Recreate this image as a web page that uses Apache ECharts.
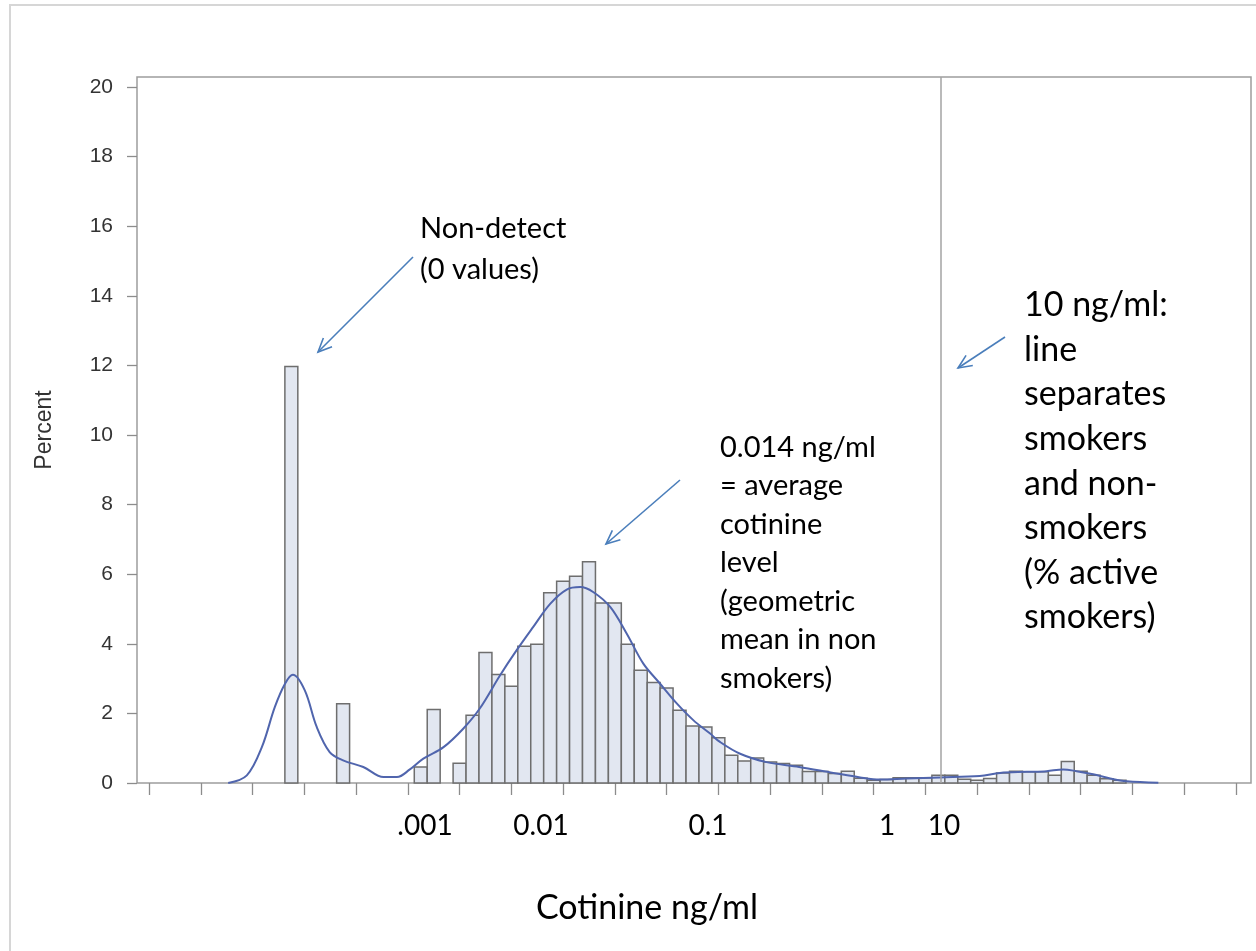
<!DOCTYPE html>
<html>
<head>
<meta charset="utf-8">
<script src="https://cdn.jsdelivr.net/npm/echarts@6/dist/echarts.min.js"></script>
<style>
  html, body { margin: 0; padding: 0; background: #ffffff; }
  #chart { width: 1256px; height: 951px; }
</style>
</head>
<body>
<div id="chart"></div>
<script>
// Histogram of ln(cotinine) in 0.25-wide bins, with a kernel density overlay.
const BIN_WIDTH = 0.25;

// Bin centres on the natural-log scale
const binCenters = [
  -10.25, -9.25, -7.75, -7.5, -7.0, -6.75, -6.5, -6.25, -6.0, -5.75,
  -5.5, -5.25, -5.0, -4.75, -4.5, -4.25, -4.0, -3.75, -3.5, -3.25,
  -3.0, -2.75, -2.5, -2.25, -2.0, -1.75, -1.5, -1.25, -1.0, -0.75,
  -0.5, -0.25, 0.0, 0.25, 0.5, 0.75, 1.0, 1.25, 1.5, 1.75,
  2.0, 2.25, 2.5, 2.75, 3.0, 3.25, 3.5, 3.75, 4.0, 4.25,
  4.5, 4.75, 5.0, 5.25, 5.5, 5.75
];
// Percent of subjects in each bin
const binPercent = [
  11.97, 2.28, 0.46, 2.11, 0.57, 1.95, 3.75, 3.12, 2.78, 3.93,
  3.99, 5.47, 5.80, 5.94, 6.36, 5.17, 5.17, 3.99, 3.24, 2.89,
  2.73, 2.09, 1.64, 1.61, 1.30, 0.80, 0.63, 0.72, 0.60, 0.56,
  0.51, 0.33, 0.33, 0.27, 0.34, 0.14, 0.08, 0.10, 0.15, 0.15,
  0.15, 0.22, 0.22, 0.11, 0.08, 0.13, 0.29, 0.34, 0.32, 0.32,
  0.22, 0.62, 0.34, 0.22, 0.12, 0.08
];

// Kernel density estimate
const densityX = [
  -11.47, -11.11, -10.82, -10.57, -10.37, -10.22, -9.99, -9.76, -9.51, -9.25,
  -8.86, -8.47, -8.21, -7.96, -7.70, -7.31, -6.93, -6.61, -6.22, -5.90,
  -5.58, -5.25, -4.93, -4.67, -4.42, -4.09, -3.77, -3.45, -3.13, -2.80,
  -2.48, -2.16, -1.97, -1.58, -1.07, -0.44, 0.22, 0.74, 1.12, 1.64,
  2.28, 3.05, 3.44, 3.96, 4.34, 4.66, 4.92, 5.24, 5.57, 5.89, 6.50
];
const densityY = [
  0.00, 0.22, 1.03, 2.18, 2.86, 3.11, 2.66, 1.61, 0.89, 0.65,
  0.46, 0.17, 0.17, 0.39, 0.70, 1.03, 1.56, 2.14, 3.09, 3.81,
  4.48, 5.15, 5.56, 5.63, 5.49, 5.06, 4.29, 3.43, 2.86, 2.28,
  1.80, 1.42, 1.18, 0.84, 0.60, 0.46, 0.29, 0.16, 0.10, 0.13,
  0.16, 0.20, 0.29, 0.32, 0.34, 0.39, 0.34, 0.25, 0.13, 0.05, 0.01
];

// Axis ticks
const xTicks = [-13, -12, -11, -10, -9, -8, -7, -6, -5, -4, -3, -2, -1, 0, 1, 2, 3, 4, 5, 6, 7, 8];
const yTicks = [0, 2, 4, 6, 8, 10, 12, 14, 16, 18, 20];

// Smoker / non-smoker cut-off, ng/ml
const cutoffNgMl = 10;

// Cotinine labels placed under the axis
const cotinineLabels = ['.001', '0.01', '0.1', '1', '10'];
const cotinineLabelX = [425, 541, 708, 887, 944];

const histData = binCenters.map((c, i) => [c, binPercent[i]]);
const densityData = densityX.map((x, i) => [x, densityY[i]]);

const ARROW = '#4a7ebb';
const TEXT_FONT = 'Lato, "Open Sans", sans-serif';
const AXIS_FONT = '"Liberation Sans", Arial, sans-serif';

function arrow(x1, y1, x2, y2) {
  const ang = Math.atan2(y2 - y1, x2 - x1);
  const len = 15, spread = 0.42;
  const a = [x2 - len * Math.cos(ang - spread), y2 - len * Math.sin(ang - spread)];
  const b = [x2 - len * Math.cos(ang + spread), y2 - len * Math.sin(ang + spread)];
  return [
    { type: 'line', shape: { x1, y1, x2, y2 }, style: { stroke: ARROW, lineWidth: 1.6 }, z: 20 },
    { type: 'polyline', shape: { points: [a, [x2, y2], b] }, style: { stroke: ARROW, lineWidth: 1.6, fill: null }, z: 20 }
  ];
}

const chart = echarts.init(document.getElementById('chart'), null, { renderer: 'canvas' });

const graphics = [
  // page border
  { type: 'polyline', shape: { points: [[10, 951], [10, 5], [1256, 5]] },
    style: { stroke: '#d6d6d6', lineWidth: 2, fill: null }, z: 1 },
  { type: 'text', style: { x: 420, y: 208.5, text: 'Non-detect\n(0 values)', font: '29px ' + TEXT_FONT,
      lineHeight: 41, fill: '#000', verticalAlign: 'top' }, z: 20 },
  { type: 'text', style: { x: 720, y: 428, text: '0.014 ng/ml\n= average\ncotinine\nlevel\n(geometric\nmean in non\nsmokers)',
      font: '29px ' + TEXT_FONT, lineHeight: 38.5, fill: '#000', verticalAlign: 'top' }, z: 20 },
  { type: 'text', style: { x: 1024, y: 283, text: '10 ng/ml:\nline\nseparates\nsmokers\nand non-\nsmokers\n(% active\nsmokers)',
      font: '34px ' + TEXT_FONT, lineHeight: 44.6, fill: '#000', verticalAlign: 'top' }, z: 20 },
  { type: 'text', style: { x: 647, y: 908, text: 'Cotinine ng/ml', font: '34px ' + TEXT_FONT,
      fill: '#000', align: 'center', verticalAlign: 'middle' }, z: 20 }
].concat(
  cotinineLabels.map((t, i) => ({
    type: 'text', style: { x: cotinineLabelX[i], y: 826, text: t, font: '28px ' + TEXT_FONT,
      fill: '#000', align: 'center', verticalAlign: 'middle' }, z: 20
  })),
  arrow(413, 257, 318, 352),
  arrow(680, 480, 606, 544),
  arrow(1005, 337, 958, 368)
);

chart.setOption({
  animation: false,
  backgroundColor: '#ffffff',
  grid: {
    left: 137, right: 5, top: 77, bottom: 168,
    show: true, borderColor: '#9d9d9d', borderWidth: 1.5, backgroundColor: 'transparent',
    outerBoundsMode: 'none'
  },
  xAxis: {
    type: 'value',
    min: -13.232, max: 8.29,
    axisLine: { show: false, onZero: false },
    axisTick: { show: true, customValues: xTicks, length: 12, inside: false,
      lineStyle: { color: '#8c8c8c', width: 1.3 } },
    axisLabel: { show: false },
    splitLine: { show: false }
  },
  yAxis: {
    type: 'value',
    min: 0, max: 20.29,
    name: 'Percent',
    nameLocation: 'middle',
    nameGap: 81,
    nameRotate: 90,
    nameTextStyle: { fontFamily: AXIS_FONT, fontSize: 23, color: '#333' },
    axisLine: { show: false, onZero: false },
    axisTick: { show: true, customValues: yTicks, length: 10, lineStyle: { color: '#8c8c8c', width: 1.3 } },
    axisLabel: { customValues: yTicks, fontFamily: AXIS_FONT, fontSize: 21, color: '#333', margin: 24 },
    splitLine: { show: false }
  },
  series: [
    {
      type: 'custom',
      name: 'Histogram',
      data: histData,
      encode: { x: 0, y: 1 },
      z: 2,
      renderItem: function (params, api) {
        const c = api.value(0), v = api.value(1);
        const p0 = api.coord([c - BIN_WIDTH / 2, v]);
        const p1 = api.coord([c + BIN_WIDTH / 2, 0]);
        return {
          type: 'rect',
          shape: { x: p0[0], y: p0[1], width: p1[0] - p0[0], height: p1[1] - p0[1] },
          style: { fill: '#e2e7f1', stroke: '#6e6e6e', lineWidth: 1.5 }
        };
      }
    },
    {
      type: 'line',
      name: 'Kernel density',
      data: densityData,
      smooth: 0.35,
      showSymbol: false,
      z: 3,
      lineStyle: { color: '#5065ad', width: 2 },
      markLine: {
        silent: true,
        symbol: ['none', 'none'],
        label: { show: false },
        lineStyle: { color: '#a3a3a3', width: 1.5, type: 'solid' },
        data: [{ xAxis: Math.log(cutoffNgMl) }]
      }
    }
  ],
  graphic: graphics
});
</script>
</body>
</html>
